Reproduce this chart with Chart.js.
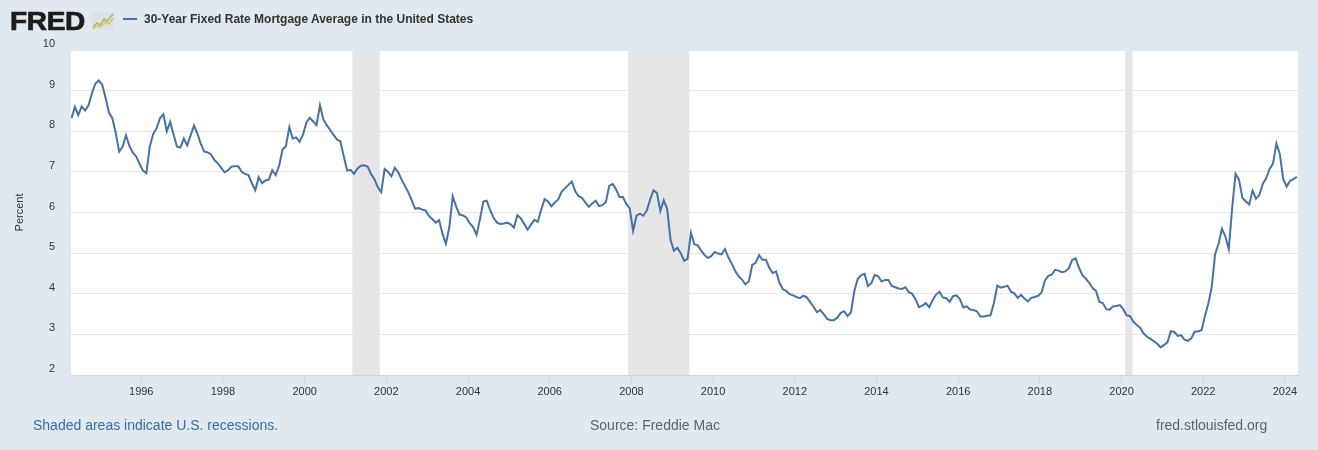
<!DOCTYPE html>
<html>
<head>
<meta charset="utf-8">
<script src="https://cdn.jsdelivr.net/npm/chart.js@4.4.1/dist/chart.umd.min.js"></script>
<style>
html,body{margin:0;padding:0;width:1318px;height:450px;overflow:hidden;background:#e1e9f0;font-family:"Liberation Sans",Arial,sans-serif;}
#c{position:absolute;left:0;top:0;}
.abs{position:absolute;white-space:nowrap;}
#logo{left:10px;top:6px;font-size:25px;font-weight:bold;color:#1c1c1c;-webkit-text-stroke:0.7px #1c1c1c;transform:scaleX(1.12);transform-origin:left top;letter-spacing:-0.3px;line-height:30px;}
#icon{left:92px;top:12px;}
#legline{left:123px;top:18px;width:14px;height:2px;background:#4572a7;}
#legtext{left:144px;top:11px;font-size:12px;font-weight:bold;color:#333;line-height:16px;}
.foot{top:416px;font-size:14px;line-height:18px;}
#f1{left:33px;color:#3d6ba2;}
#f2{left:590px;color:#5f6368;}
#f3{left:1156px;color:#5f6368;}
</style>
</head>
<body>
<canvas id="c" width="1318" height="450"></canvas>
<div class="abs" id="logo">FRED</div>
<svg class="abs" id="icon" width="22" height="18" viewBox="0 0 22 18">
  <rect x="0" y="0" width="22" height="18" fill="#dde3e6"/>
  <polyline points="1,15 5,11 8,13 12,7 15,9 21,2" fill="none" stroke="#9dbb63" stroke-width="1.4"/>
  <polyline points="1,17 5,14 9,15 13,10 17,12 21,6" fill="none" stroke="#d9c35f" stroke-width="1.4"/>
</svg>
<div class="abs" id="legline"></div>
<div class="abs" id="legtext">30-Year Fixed Rate Mortgage Average in the United States</div>
<div class="abs foot" id="f1">Shaded areas indicate U.S. recessions.</div>
<div class="abs foot" id="f2">Source: Freddie Mac</div>
<div class="abs foot" id="f3">fred.stlouisfed.org</div>
<script>
// ---- data (monthly averages, percent) ----
const firstYear = 1994;
const firstMonth = 4; // April 1994
const r1994 = [8.32, 8.60, 8.40, 8.61, 8.51, 8.64, 8.93, 9.17, 9.25];
const r1995 = [9.15, 8.83, 8.46, 8.32, 7.96, 7.50, 7.61, 7.90, 7.64, 7.48, 7.38, 7.20];
const r1996 = [7.03, 6.97, 7.62, 7.93, 8.07, 8.32, 8.42, 8.00, 8.23, 7.92, 7.62, 7.60];
const r1997 = [7.82, 7.65, 7.90, 8.14, 7.94, 7.69, 7.50, 7.48, 7.43, 7.29, 7.21, 7.10];
const r1998 = [6.99, 7.04, 7.13, 7.14, 7.14, 7.00, 6.95, 6.92, 6.72, 6.55, 6.87, 6.72];
const r1999 = [6.79, 6.81, 7.04, 6.92, 7.15, 7.55, 7.63, 8.10, 7.82, 7.85, 7.74, 7.91];
const r2000 = [8.21, 8.33, 8.24, 8.15, 8.64, 8.29, 8.15, 8.03, 7.91, 7.80, 7.75, 7.38];
const r2001 = [7.03, 7.05, 6.95, 7.08, 7.15, 7.16, 7.13, 6.95, 6.82, 6.62, 6.50, 7.07];
const r2002 = [7.00, 6.89, 7.10, 6.99, 6.81, 6.65, 6.49, 6.29, 6.09, 6.11, 6.07, 6.05];
const r2003 = [5.92, 5.84, 5.75, 5.81, 5.48, 5.23, 5.63, 6.40, 6.15, 5.95, 5.93, 5.88];
const r2004 = [5.74, 5.64, 5.45, 5.83, 6.27, 6.29, 6.06, 5.87, 5.75, 5.72, 5.73, 5.75];
const r2005 = [5.71, 5.63, 5.93, 5.86, 5.72, 5.58, 5.70, 5.82, 5.77, 6.07, 6.33, 6.27];
const r2006 = [6.15, 6.25, 6.32, 6.51, 6.60, 6.68, 6.76, 6.52, 6.40, 6.36, 6.24, 6.14];
const r2007 = [6.22, 6.29, 6.16, 6.18, 6.26, 6.66, 6.70, 6.57, 6.38, 6.38, 6.21, 6.10];
const r2008 = [5.55, 5.92, 5.97, 5.92, 6.04, 6.32, 6.55, 6.48, 6.04, 6.30, 6.09, 5.33];
const r2009 = [5.06, 5.13, 5.00, 4.81, 4.86, 5.50, 5.22, 5.19, 5.06, 4.95, 4.88, 4.93];
const r2010 = [5.03, 4.99, 4.97, 5.10, 4.89, 4.74, 4.56, 4.43, 4.35, 4.23, 4.30, 4.71];
const r2011 = [4.76, 4.95, 4.84, 4.84, 4.64, 4.51, 4.55, 4.27, 4.11, 4.07, 3.99, 3.96];
const r2012 = [3.92, 3.89, 3.95, 3.91, 3.80, 3.68, 3.55, 3.60, 3.50, 3.38, 3.35, 3.35];
const r2013 = [3.41, 3.53, 3.57, 3.45, 3.54, 4.07, 4.37, 4.46, 4.49, 4.19, 4.26, 4.46];
const r2014 = [4.43, 4.30, 4.34, 4.34, 4.19, 4.16, 4.13, 4.12, 4.16, 4.04, 4.00, 3.86];
const r2015 = [3.67, 3.71, 3.77, 3.67, 3.84, 3.98, 4.05, 3.91, 3.89, 3.80, 3.94, 3.96];
const r2016 = [3.87, 3.66, 3.69, 3.61, 3.60, 3.57, 3.44, 3.44, 3.46, 3.47, 3.77, 4.20];
const r2017 = [4.15, 4.17, 4.20, 4.05, 4.01, 3.90, 3.97, 3.88, 3.81, 3.90, 3.92, 3.95];
const r2018 = [4.03, 4.33, 4.44, 4.47, 4.59, 4.57, 4.53, 4.55, 4.63, 4.83, 4.87, 4.64];
const r2019 = [4.46, 4.37, 4.27, 4.14, 4.07, 3.80, 3.77, 3.62, 3.61, 3.69, 3.70, 3.72];
const r2020 = [3.62, 3.47, 3.45, 3.31, 3.23, 3.16, 3.02, 2.94, 2.89, 2.83, 2.77, 2.68];
const r2021 = [2.74, 2.81, 3.08, 3.06, 2.96, 2.98, 2.87, 2.84, 2.90, 3.07, 3.07, 3.10];
const r2022 = [3.45, 3.76, 4.17, 4.98, 5.23, 5.60, 5.41, 5.10, 6.11, 6.95, 6.81, 6.36];
const r2023 = [6.27, 6.20, 6.54, 6.34, 6.43, 6.71, 6.84, 7.07, 7.20, 7.70, 7.44, 6.82];
const r2024 = [6.64, 6.78, 6.82, 6.88];
const yearlySeries = [r1994, r1995, r1996, r1997, r1998, r1999, r2000, r2001, r2002, r2003,
  r2004, r2005, r2006, r2007, r2008, r2009, r2010, r2011, r2012, r2013, r2014, r2015,
  r2016, r2017, r2018, r2019, r2020, r2021, r2022, r2023, r2024];
const recessions = [[2001.17, 2001.84], [2007.92, 2009.42], [2020.09, 2020.27]];
const xTicks = [1996, 1998, 2000, 2002, 2004, 2006, 2008, 2010, 2012, 2014, 2016, 2018, 2020, 2022, 2024];
const yTicks = [2, 3, 4, 5, 6, 7, 8, 9, 10];
const xMin = 1994.28, xMax = 2024.32;

// build points: each monthly value placed mid-month (decimal year)
const points = [];
yearlySeries.forEach((arr, i) => {
  const yr = firstYear + i;
  const m0 = i === 0 ? firstMonth : 1;
  arr.forEach((v, j) => {
    points.push({x: yr + (m0 - 1 + j) / 12 + 1 / 24, y: v});
  });
});

Chart.defaults.font.family = "'Liberation Sans', Arial, sans-serif";

const bgPlugin = {
  id: 'bg',
  beforeDraw(chart) {
    const {ctx, chartArea: a} = chart;
    ctx.save();
    ctx.fillStyle = '#e1e9f0';
    ctx.fillRect(0, 0, chart.width, chart.height);
    ctx.fillStyle = '#ffffff';
    ctx.fillRect(a.left, a.top, a.right - a.left, a.bottom - a.top);
    ctx.restore();
  },
  beforeDatasetsDraw(chart) {
    const {ctx, chartArea: a, scales: {x}} = chart;
    ctx.save();
    ctx.fillStyle = '#e6e6e6';
    recessions.forEach(([s, e]) => {
      const x1 = x.getPixelForValue(s), x2 = x.getPixelForValue(e);
      ctx.fillRect(x1, a.top, x2 - x1, a.bottom - a.top);
    });
    ctx.restore();
  }
};

new Chart(document.getElementById('c'), {
  type: 'line',
  data: {
    datasets: [{
      label: '30-Year Fixed Rate Mortgage Average in the United States',
      data: points,
      borderColor: '#4572a7',
      borderWidth: 2,
      pointRadius: 0,
      tension: 0,
      fill: false
    }]
  },
  options: {
    responsive: false,
    animation: false,
    layout: {padding: {top: 50, right: 20, bottom: 0, left: 0}},
    plugins: {legend: {display: false}, tooltip: {enabled: false}},
    scales: {
      x: {
        type: 'linear',
        min: xMin,
        max: xMax,
        afterBuildTicks: s => { s.ticks = xTicks.map(v => ({value: v})); },
        afterFit: s => { s.height = 75; },
        grid: {display: true, drawOnChartArea: false, drawTicks: true, tickLength: 8, color: '#ccd6eb'},
        border: {display: true, color: '#ccd6eb'},
        ticks: {color: '#333', font: {size: 11}, padding: 2, maxRotation: 0, autoSkip: false,
          callback: v => String(v)}
      },
      y: {
        min: 2,
        max: 10,
        afterBuildTicks: s => { s.ticks = yTicks.map(v => ({value: v})); },
        afterFit: s => { s.width = 71; },
        grid: {color: '#e6e6e6', drawTicks: false},
        border: {display: false},
        ticks: {color: '#333', font: {size: 11}, padding: 16, labelOffset: -6},
        title: {display: true, text: 'Percent', color: '#333', font: {size: 11}, padding: {top: 13, bottom: 0}}
      }
    }
  },
  plugins: [bgPlugin]
});
</script>
</body>
</html>
